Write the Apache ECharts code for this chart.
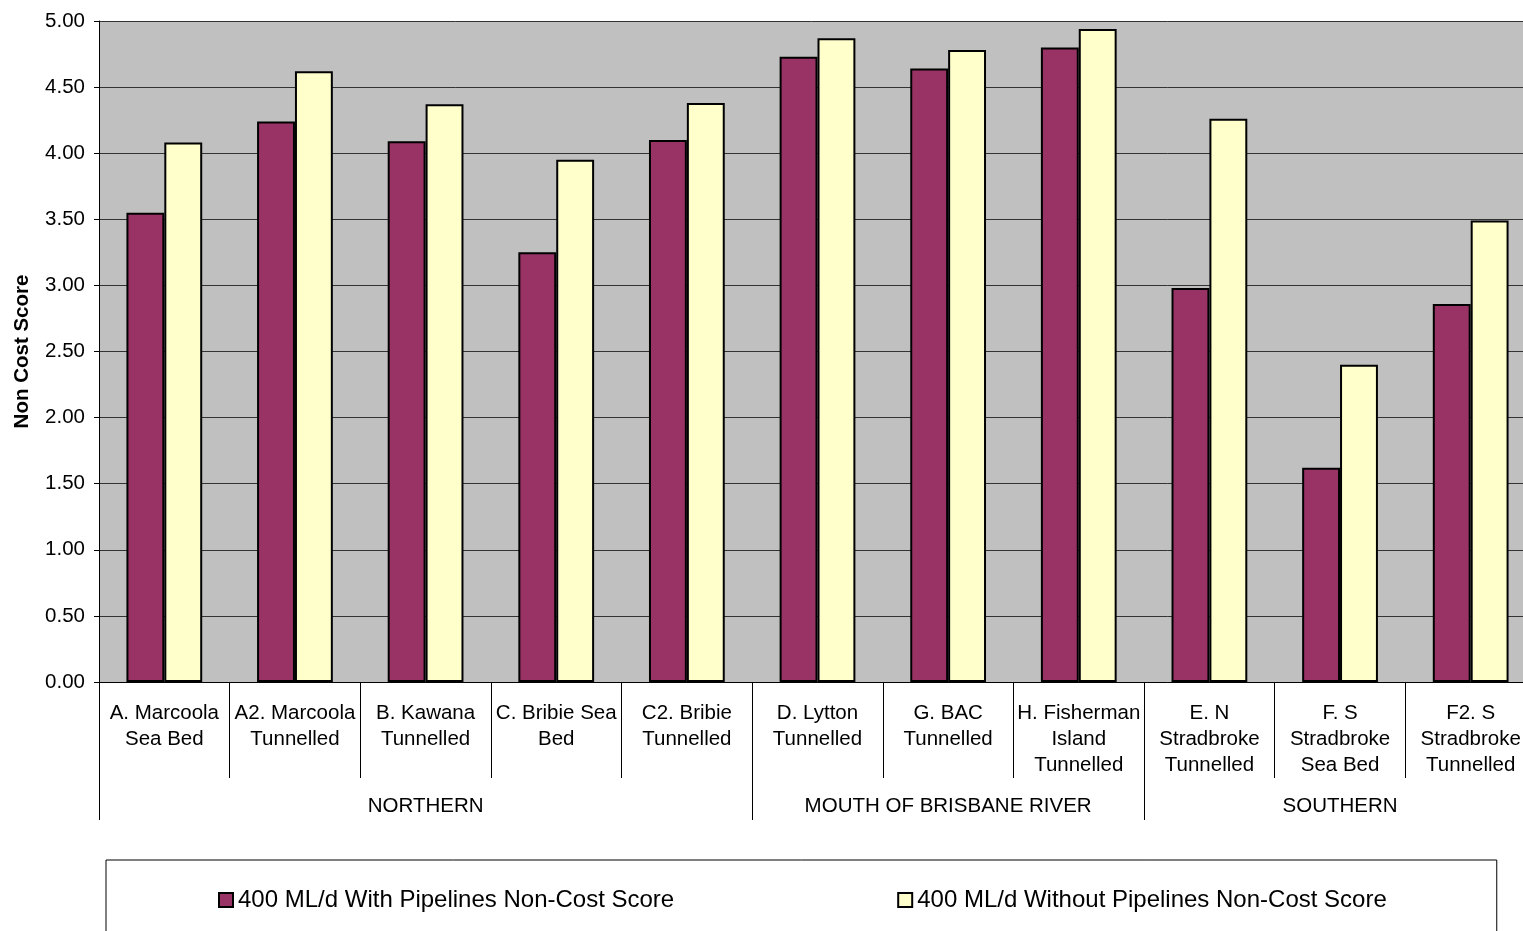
<!DOCTYPE html>
<html>
<head>
<meta charset="utf-8">
<title>Non Cost Score</title>
<script src="https://cdn.jsdelivr.net/npm/echarts@6/dist/echarts.min.js"></script>
<style>
  html, body { margin: 0; padding: 0; background: #ffffff; overflow: hidden; }
  #chart { width: 1523px; height: 931px; }
</style>
</head>
<body>
<div id="chart"></div>
<script>
// Desalination site options, grouped by region
const categories = [
  'A. Marcoola\nSea Bed', 'A2. Marcoola\nTunnelled', 'B. Kawana\nTunnelled',
  'C. Bribie Sea\nBed', 'C2. Bribie\nTunnelled', 'D. Lytton\nTunnelled',
  'G. BAC\nTunnelled', 'H. Fisherman\nIsland\nTunnelled', 'E. N\nStradbroke\nTunnelled',
  'F. S\nStradbroke\nSea Bed', 'F2. S\nStradbroke\nTunnelled'
];
// Region label shown under the middle category of each group ('' elsewhere)
const groupLabels = ['', '', 'NORTHERN', '', '', '', 'MOUTH OF BRISBANE RIVER', '', '', 'SOUTHERN', ''];
// Index of the first category in each region
const groupStarts = [0, 5, 8];

const seriesNames = [
  '400 ML/d With Pipelines Non-Cost Score',
  '400 ML/d Without Pipelines Non-Cost Score'
];
const withPipelines    = [3.55, 4.24, 4.09, 3.25, 4.10, 4.73, 4.64, 4.80, 2.98, 1.62, 2.86];
const withoutPipelines = [4.08, 4.62, 4.37, 3.95, 4.38, 4.87, 4.78, 4.94, 4.26, 2.40, 3.49];

const FONT = '"Liberation Sans", Arial, sans-serif';
const AXIS_FONT_SIZE = 20.5;

const chart = echarts.init(document.getElementById('chart'), null, { renderer: 'canvas' });

const barStyle = (color) => ({ color: color, borderColor: '#000000', borderWidth: 2 });

chart.setOption({
  animation: false,
  backgroundColor: '#ffffff',
  textStyle: { fontFamily: FONT, color: '#000000' },
  // the plot runs a little past the right edge of the page
  grid: {
    left: 99, top: 21, width: 1437, bottom: 249,
    outerBoundsMode: 'none',
    show: true, backgroundColor: '#C0C0C0', borderWidth: 0
  },
  legend: {
    left: 106, top: 860,
    padding: [28, 110, 50, 112],
    itemGap: 223,
    icon: 'rect',
    itemWidth: 14, itemHeight: 14,
    borderColor: '#000000', borderWidth: 1,
    textStyle: { fontFamily: FONT, fontSize: 24, color: '#000000' },
    data: seriesNames
  },
  xAxis: [
    {
      type: 'category',
      data: categories,
      position: 'bottom',
      axisLine: { show: true, lineStyle: { color: '#000000', width: 1 } },
      axisTick: { show: true, length: 96, lineStyle: { color: '#000000', width: 1 } },
      axisLabel: {
        interval: 0, margin: 18,
        fontFamily: FONT, fontSize: AXIS_FONT_SIZE, lineHeight: 26, color: '#000000', align: 'center'
      },
      splitLine: { show: false }
    },
    {
      type: 'category',
      data: groupLabels,
      position: 'bottom',
      axisLine: { show: false },
      axisTick: {
        show: true, length: 138,
        interval: (index) => groupStarts.indexOf(index) !== -1,
        lineStyle: { color: '#000000', width: 1 }
      },
      axisLabel: {
        interval: 0, margin: 112,
        fontFamily: FONT, fontSize: AXIS_FONT_SIZE, lineHeight: 24, color: '#000000'
      },
      splitLine: { show: false }
    }
  ],
  yAxis: {
    type: 'value',
    min: 0, max: 5, interval: 0.5,
    name: 'Non Cost Score',
    nameLocation: 'middle',
    nameGap: 66,
    nameTextStyle: { fontFamily: FONT, fontSize: AXIS_FONT_SIZE, fontWeight: 'bold', color: '#000000' },
    axisLine: { show: true, lineStyle: { color: '#000000', width: 1 } },
    axisTick: { show: true, length: 5, lineStyle: { color: '#000000', width: 1 } },
    axisLabel: {
      margin: 14, fontFamily: FONT, fontSize: AXIS_FONT_SIZE, color: '#000000',
      formatter: (v) => v.toFixed(2)
    },
    splitLine: { show: true, lineStyle: { color: '#333333', width: 1 } }
  },
  series: [
    {
      name: seriesNames[0], type: 'bar', xAxisIndex: 0,
      data: withPipelines,
      barGap: '0%', barCategoryGap: '42%',
      itemStyle: barStyle('#993366')
    },
    {
      name: seriesNames[1], type: 'bar', xAxisIndex: 0,
      data: withoutPipelines,
      barGap: '0%', barCategoryGap: '42%',
      itemStyle: barStyle('#FFFFCC')
    }
  ]
});
</script>
</body>
</html>
